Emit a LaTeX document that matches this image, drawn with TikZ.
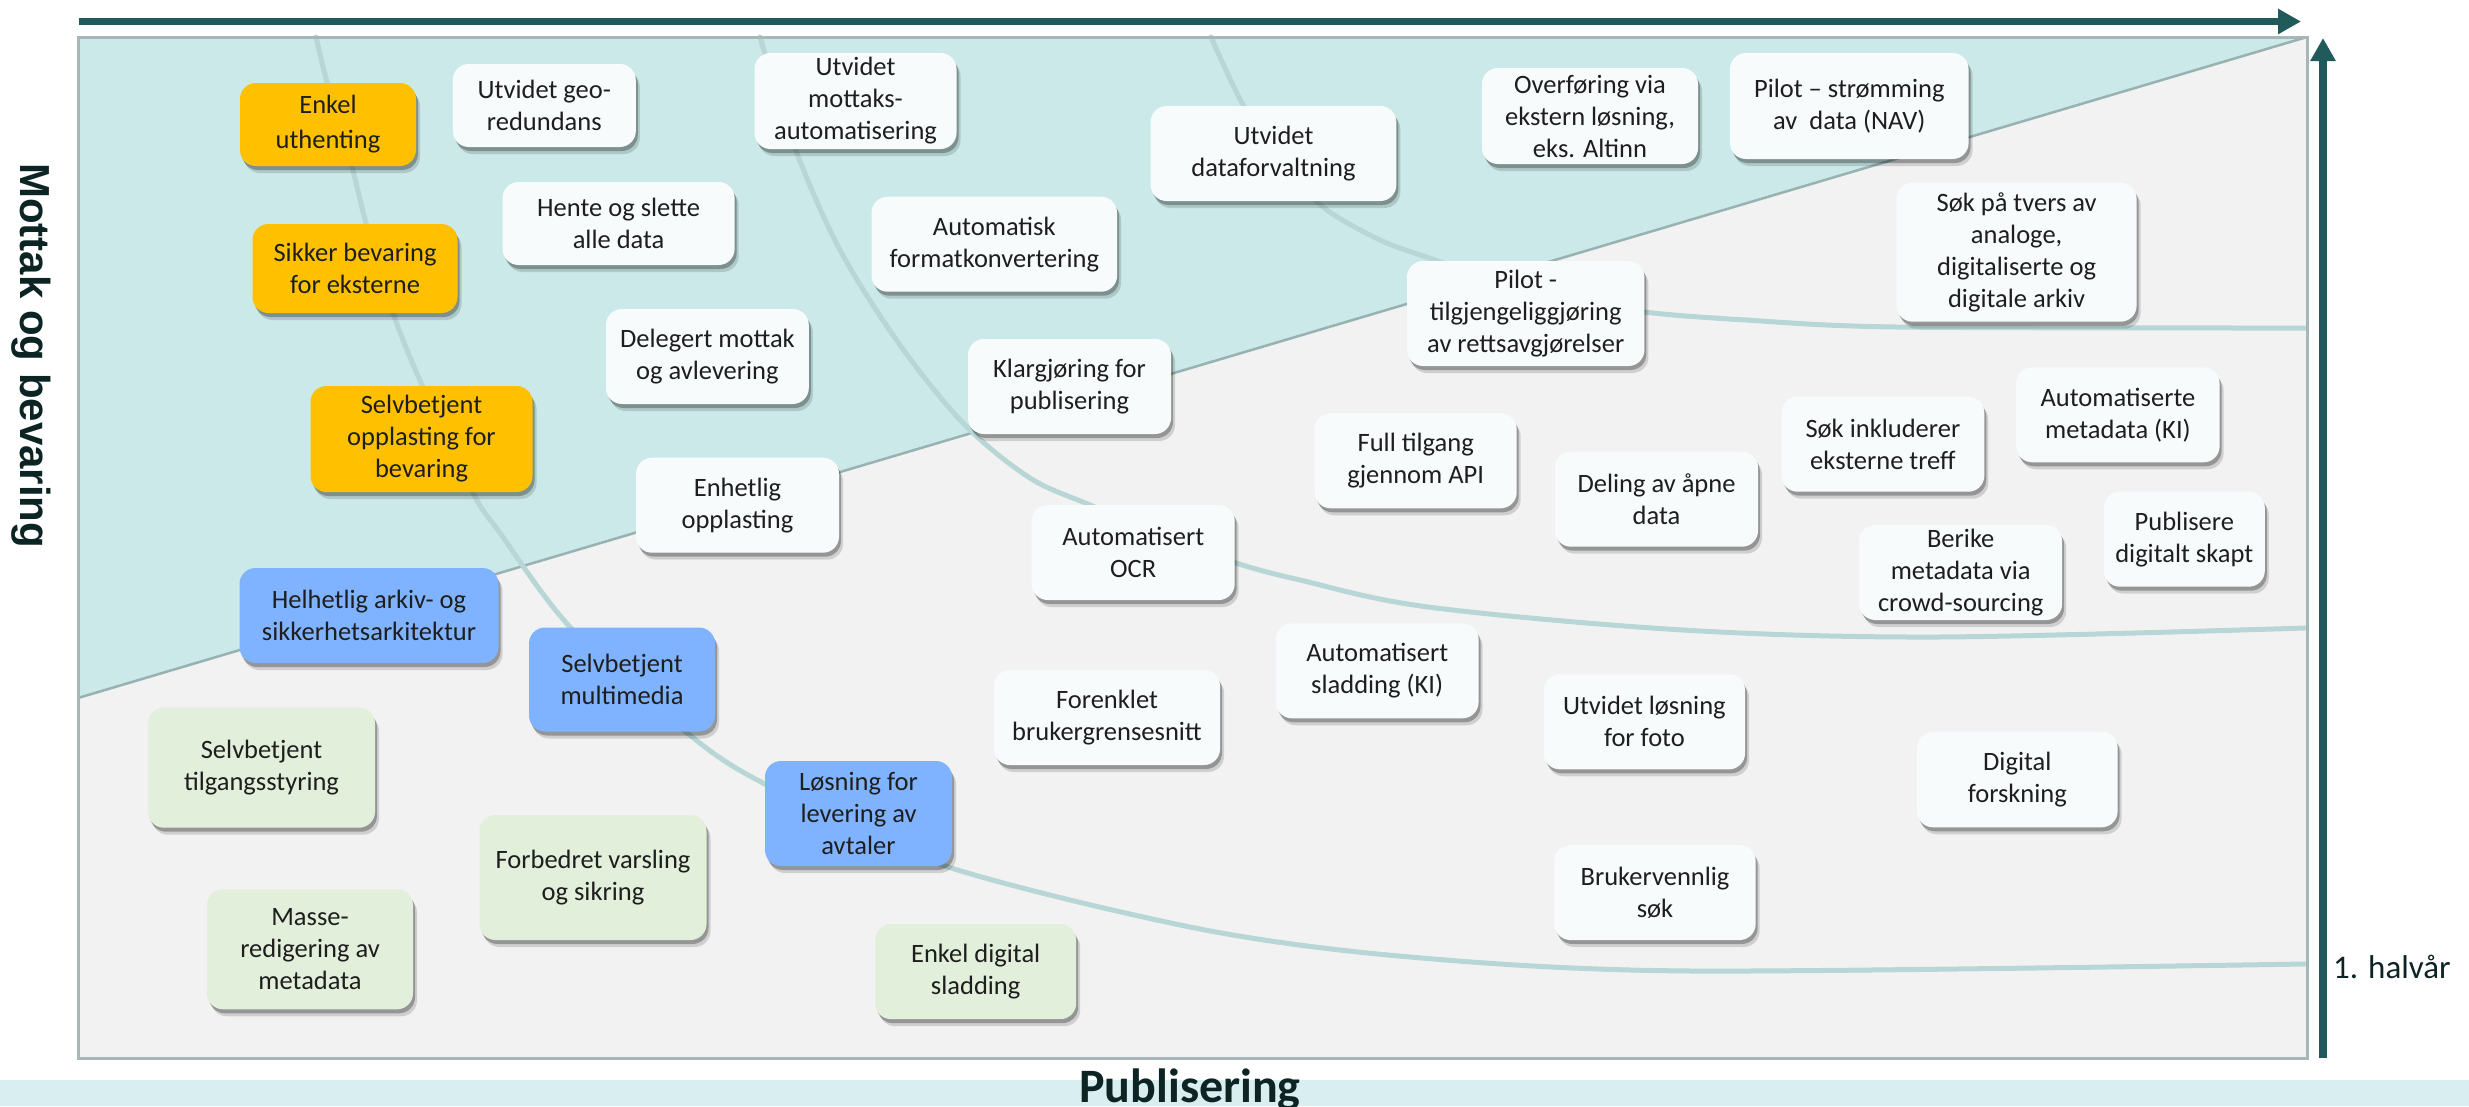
\documentclass[tikz,border=0pt]{standalone}
\usepackage{fontspec}
\setmainfont{Carlito}
\newfontfamily\axisfont{Liberation Sans}
\usetikzlibrary{arrows.meta,shadows}
\definecolor{tealbg}{HTML}{CBE9E9}
\definecolor{graybg}{HTML}{F2F2F2}
\definecolor{bandbg}{HTML}{D9EEF0}
\definecolor{framec}{HTML}{A7B6B6}
\definecolor{diagc}{HTML}{98B2B2}
\definecolor{curvec}{HTML}{B9D6D6}
\definecolor{axisc}{HTML}{215A5B}
\definecolor{txt}{HTML}{1E1E1E}
\definecolor{orangef}{HTML}{FFC000}
\definecolor{bluef}{HTML}{80B3FF}
\definecolor{greenf}{HTML}{E2EFDA}
\definecolor{whitef}{HTML}{F8FBFC}
\begin{document}
\begin{tikzpicture}[x=1pt,y=-1pt,
  box/.style={rounded corners=16pt, align=center, inner sep=3pt, text=txt,
    font=\fontsize{26.5}{32}\selectfont,
    drop shadow={shadow xshift=2pt, shadow yshift=-4pt, opacity=0.28, fill=black},
    drop shadow={shadow xshift=4pt, shadow yshift=-7pt, opacity=0.14, fill=black}},
  wbox/.style={box, fill=whitef},
  obox/.style={box, fill=orangef},
  bbox/.style={box, fill=bluef},
  gbox/.style={box, fill=greenf},
  sz/.style 2 args={minimum width=#1pt, minimum height=#2pt},
  curve/.style={draw=curvec, line width=5pt, line cap=round},
  axisarrow/.style={draw=axisc, line width=7pt, -{Triangle[length=23pt,width=24pt]}},
]
\useasboundingbox (0,0) rectangle (2469,1106);
% bottom band
\fill[bandbg] (0,1080) rectangle (2469,1106);
% panel
\fill[graybg] (78,37) rectangle (2307,1058);
\fill[tealbg] (78,37) -- (2307,37) -- (78,698) -- cycle;
\draw[diagc, line width=2.5pt] (78,698) -- (2307,37);
% curves
\draw[curve] plot[smooth, tension=0.5] coordinates {(316,37) (327,82) (352,167) (366,223) (393,313) (422,385) (473,493) (500,533) (570,627) (686,732) (763,783) (942,865) (1200,929) (1410,957) (1691,971) (2305,964)};
\draw[curve] plot[smooth, tension=0.55] coordinates {(760,37) (795,148) (840,250) (900,345) (965,425) (1030,478) (1090,505) (1165,537) (1236,563) (1300,580) (1428,607) (1683,630) (1938,637) (2305,628)};
\draw[curve] plot[smooth, tension=0.5] coordinates {(1211,37) (1243,105) (1280,160) (1323,207) (1380,240) (1435,260) (1540,295) (1644,312) (1746,320) (1896,327) (2305,328)};
\draw[framec, line width=3pt] (78,37) rectangle (2307,1058);
% axes
\coordinate (hx0) at (79,21.5);
\coordinate (hx1) at (2301,21.5);
\coordinate (vy0) at (2323,1058);
\coordinate (vy1) at (2323,38);
\draw[axisarrow] (hx0) -- (hx1);
\draw[axisarrow, line width=7.5pt] (vy0) -- (vy1);
% axis labels
\node[rotate=-90, anchor=base west, inner sep=0, text=axisc!40!black,
  font=\axisfont\bfseries\fontsize{42}{50}\selectfont] (mottak) at (20.7,163) {Mottak og bevaring};
\node[anchor=base, inner sep=0, text=axisc!40!black,
  font=\bfseries\fontsize{48}{56}\selectfont] (publ) at (1190,1102) {Publisering};
\node[anchor=base west, inner sep=0, text=axisc!40!black,
  font=\fontsize{33}{40}\selectfont] (halvar) at (2333,978) {1. halvår};
% orange boxes
\node[obox, sz={176}{83}, font=\fontsize{26.5}{35}\selectfont] (enkel) at (328,124.5) {Enkel\\uthenting};
\node[obox, sz={205}{89}] (sikker) at (355,268.5) {Sikker bevaring\\for eksterne};
\node[obox, sz={222}{106}] (selvopp) at (421.5,439) {Selvbetjent\\opplasting for\\bevaring};
% blue boxes
\node[bbox, sz={259}{95}] (helhet) at (369,615.5) {Helhetlig arkiv- og\\sikkerhetsarkitektur};
\node[bbox, sz={186}{104}] (multi) at (622,679.5) {Selvbetjent\\multimedia};
\node[bbox, sz={187}{105}] (levering) at (858.5,813.5) {Løsning for\\levering av\\avtaler};
% green boxes
\node[gbox, sz={227}{120}] (tilgang) at (261.5,767.7) {Selvbetjent\\tilgangsstyring};
\node[gbox, sz={227}{125}] (varsling) at (593,877.5) {Forbedret varsling\\og sikring};
\node[gbox, sz={206}{120}] (masse) at (310,949.3) {Masse-\\redigering av\\metadata};
\node[gbox, sz={201}{95}] (enkeldig) at (975.7,971.7) {Enkel digital\\sladding};
% white boxes
\node[wbox, sz={183}{83}] (geo) at (544.3,105.5) {Utvidet geo-\\redundans};
\node[wbox, sz={232}{83}] (hente) at (618.6,223.5) {Hente og slette\\alle data};
\node[wbox, sz={202}{96}] (mottaks) at (855.5,101) {Utvidet\\mottaks-\\automatisering};
\node[wbox, sz={245.5}{95}] (format) at (994.3,244.2) {Automatisk\\formatkonvertering};
\node[wbox, sz={245.7}{95}] (dataforv) at (1273.5,153.5) {Utvidet\\dataforvaltning};
\node[wbox, sz={216}{96}] (overf) at (1590,116) {Overføring via\\ekstern løsning,\\eks. Altinn};
\node[wbox, sz={238.6}{106}] (pilotstr) at (1849.3,106) {Pilot – strømming\\av\ \ data (NAV)};
\node[wbox, sz={240}{139}] (soktvers) at (2016.6,252.2) {Søk på tvers av\\analoge,\\digitaliserte og\\digitale arkiv};
\node[wbox, sz={202.8}{95}] (delegert) at (707.4,356.5) {Delegert mottak\\og avlevering};
\node[wbox, sz={203}{95}] (klargj) at (1069.5,386.5) {Klargjøring for\\publisering};
\node[wbox, sz={203}{95}] (enhetlig) at (737.5,505.2) {Enhetlig\\opplasting};
\node[wbox, sz={203}{95}] (ocr) at (1133.2,552.5) {Automatisert\\OCR};
\node[wbox, sz={237.4}{105}] (pilottilg) at (1525.7,313.5) {Pilot -\\tilgjengeliggjøring\\av rettsavgjørelser};
\node[wbox, sz={202}{95}] (fulltilg) at (1415.7,460.8) {Full tilgang\\gjennom API};
\node[wbox, sz={203}{95}] (deling) at (1656.5,499.2) {Deling av åpne\\data};
\node[wbox, sz={202.8}{95}] (sokinkl) at (1882.9,444.2) {Søk inkluderer\\eksterne treff};
\node[wbox, sz={203.4}{95}] (autometa) at (2117.9,414.8) {Automatiserte\\metadata (KI)};
\node[wbox, sz={202.8}{95}] (berike) at (1960.7,572.5) {Berike\\metadata via\\crowd-sourcing};
\node[wbox, sz={161}{95}] (publisere) at (2184.3,539.2) {Publisere\\digitalt skapt};
\node[wbox, sz={226}{95}] (forenklet) at (1107,717.5) {Forenklet\\brukergrensesnitt};
\node[wbox, sz={202.7}{95}] (autosladd) at (1377.2,670.8) {Automatisert\\sladding (KI)};
\node[wbox, sz={201.3}{95}] (utvfoto) at (1644.4,721.8) {Utvidet løsning\\for foto};
\node[wbox, sz={200.6}{95.6}] (digforsk) at (2017.3,779.5) {Digital\\forskning};
\node[wbox, sz={201.3}{95}] (brukerv) at (1655,892.5) {Brukervennlig\\søk};
\end{tikzpicture}
\end{document}
